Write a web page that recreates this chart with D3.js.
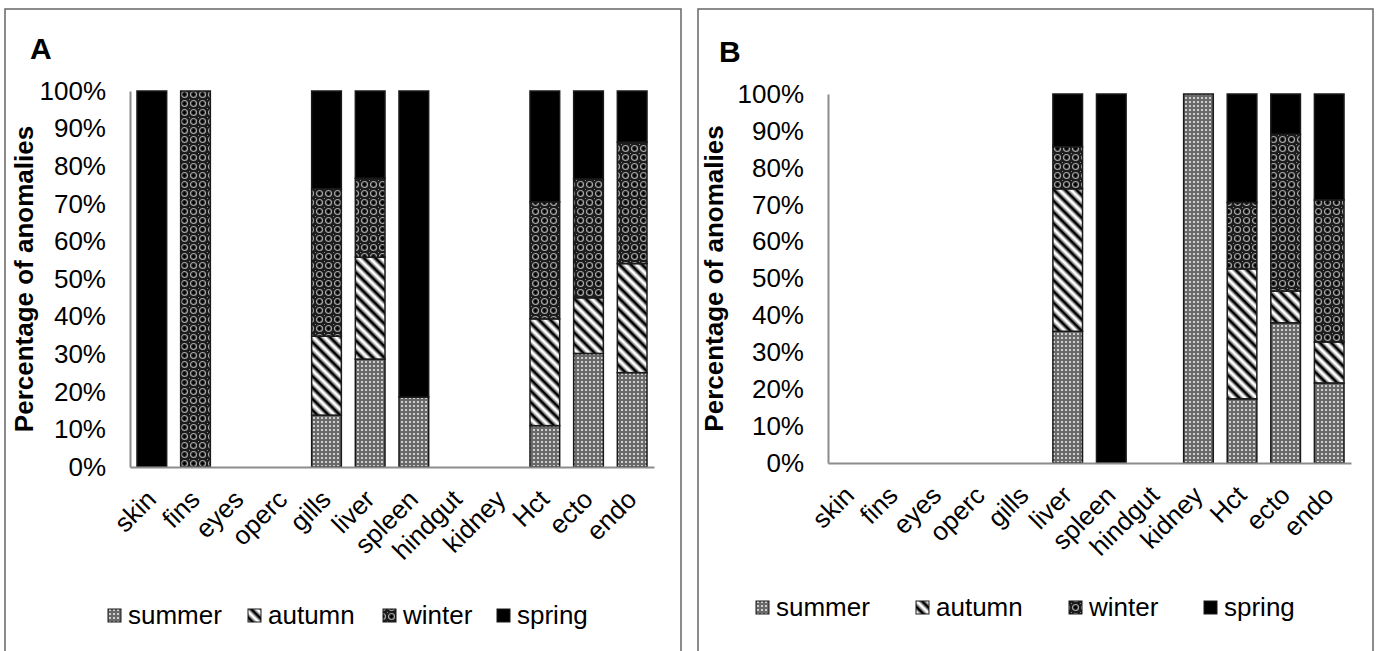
<!DOCTYPE html>
<html>
<head>
<meta charset="utf-8">
<script src="https://cdn.jsdelivr.net/npm/d3@7"></script>
<style>
  body { margin: 0; background: #fff; }
  svg { display: block; font-family: "Liberation Sans", Arial, sans-serif; }
</style>
</head>
<body>
<svg id="chart" width="1379" height="651"></svg>
<script>
// categories and seasons
const categories = ["skin", "fins", "eyes", "operc", "gills", "liver", "spleen", "hindgut", "kidney", "Hct", "ecto", "endo"];
const seasons = ["summer", "autumn", "winter", "spring"];
const yTicks = [0, 10, 20, 30, 40, 50, 60, 70, 80, 90, 100];

// panel A, % of anomalies per season
const aSummer = [0, 0, 0, 0, 13.8, 28.7, 18.6, 0, 0, 11.0, 30.2, 25.1];
const aAutumn = [0, 0, 0, 0, 21.0, 27.1, 0, 0, 0, 28.4, 14.8, 29.0];
const aWinter = [0, 100, 0, 0, 39.2, 21.0, 0, 0, 0, 31.1, 31.6, 32.3];
const aSpring = [100, 0, 0, 0, 26.0, 23.2, 81.4, 0, 0, 29.5, 23.4, 13.6];

// panel B
const bSummer = [0, 0, 0, 0, 0, 35.7, 0, 0, 100, 17.4, 38.0, 21.7];
const bAutumn = [0, 0, 0, 0, 0, 38.6, 0, 0, 0, 35.2, 8.6, 11.1];
const bWinter = [0, 0, 0, 0, 0, 11.4, 0, 0, 0, 18.0, 42.5, 38.5];
const bSpring = [0, 0, 0, 0, 0, 14.3, 100, 0, 0, 29.4, 10.9, 28.7];

const svg = d3.select("#chart");
svg.append("rect").attr("width", 1379).attr("height", 651).attr("fill", "#fff");

// hatch patterns, roughly like the excel ones
const defs = svg.append("defs");
let p = defs.append("pattern").attr("id", "pat-summer").attr("patternUnits", "userSpaceOnUse")
  .attr("width", 4).attr("height", 4);
p.append("rect").attr("width", 4).attr("height", 4).attr("fill", "#6a6a6a");
p.append("rect").attr("x", 1).attr("y", 1).attr("width", 2).attr("height", 2).attr("fill", "#cfcfcf");

p = defs.append("pattern").attr("id", "pat-autumn").attr("patternUnits", "userSpaceOnUse")
  .attr("width", 8).attr("height", 8).attr("patternTransform", "rotate(-45)");
p.append("rect").attr("width", 8).attr("height", 8).attr("fill", "#fff");
p.append("rect").attr("x", 0.5).attr("width", 1).attr("height", 8).attr("fill", "#777");
p.append("rect").attr("x", 1.5).attr("width", 3).attr("height", 8).attr("fill", "#000");
p.append("rect").attr("x", 4.5).attr("width", 1).attr("height", 8).attr("fill", "#777");

p = defs.append("pattern").attr("id", "pat-winter").attr("patternUnits", "userSpaceOnUse")
  .attr("width", 9).attr("height", 9);
p.append("rect").attr("width", 9).attr("height", 9).attr("fill", "#1c1c1c");
p.append("circle").attr("cx", 4.5).attr("cy", 4.5).attr("r", 3).attr("fill", "none")
  .attr("stroke", "#a6a6a6").attr("stroke-width", 1.2);
p.append("rect").attr("x", 4).attr("y", 3).attr("width", 1).attr("height", 3).attr("fill", "#000");
p.append("rect").attr("x", 3).attr("y", 4).attr("width", 3).attr("height", 1).attr("fill", "#000");
p.append("rect").attr("x", 0).attr("y", 0).attr("width", 1).attr("height", 1).attr("fill", "#8a8a8a");

const fills = {
  summer: "url(#pat-summer)",
  autumn: "url(#pat-autumn)",
  winter: "url(#pat-winter)",
  spring: "#000"
};

const panels = [
  {
    letter: "A", series: [aSummer, aAutumn, aWinter, aSpring],
    box: [5, 9, 676], letterPos: [30, 59],
    x0: 130, x1: 654, yTop: 91, yBot: 467, titleX: 33,
    legendY: 624, legendX: [108, 248, 383, 497]
  },
  {
    letter: "B", series: [bSummer, bAutumn, bWinter, bSpring],
    box: [698, 9, 675], letterPos: [719, 62],
    x0: 828, x1: 1351, yTop: 94, yBot: 463, titleX: 723,
    legendY: 616, legendX: [756, 916, 1069, 1204]
  }
];

panels.forEach(drawPanel);

function drawPanel(cfg) {
  const g = svg.append("g");
  // frame
  g.append("rect")
    .attr("x", cfg.box[0]).attr("y", cfg.box[1])
    .attr("width", cfg.box[2]).attr("height", 700)
    .attr("fill", "none").attr("stroke", "#666").attr("stroke-width", 1.5);

  g.append("text")
    .attr("x", cfg.letterPos[0]).attr("y", cfg.letterPos[1])
    .attr("font-size", 30).attr("font-weight", "bold").text(cfg.letter);

  const x = d3.scaleBand().domain(categories).range([cfg.x0, cfg.x1])
    .paddingInner(0.32).paddingOuter(0.16);
  const y = d3.scaleLinear().domain([0, 100]).range([cfg.yBot, cfg.yTop]);

  // tidy rows for the stack
  const rows = categories.map((c, i) => {
    const r = { cat: c };
    seasons.forEach((s, k) => (r[s] = cfg.series[k][i]));
    return r;
  });
  const stacked = d3.stack().keys(seasons)(rows);

  // y axis
  const yAxis = g.append("g")
    .attr("transform", `translate(${cfg.x0},0)`)
    .call(d3.axisLeft(y).tickValues(yTicks).tickSize(0).tickPadding(24).tickFormat((d) => d + "%"));
  yAxis.select(".domain").attr("stroke", "#8c8c8c").attr("stroke-width", 2);
  yAxis.selectAll("text").attr("font-size", 26).attr("fill", "#000")
    .attr("font-family", "Liberation Sans, Arial, sans-serif");

  // bars
  stacked.forEach((layer) => {
    g.append("g").selectAll("rect")
      .data(layer.filter((d) => d[1] - d[0] > 0))
      .join("rect")
      .attr("x", (d) => x(d.data.cat))
      .attr("width", x.bandwidth())
      .attr("y", (d) => y(d[1]))
      .attr("height", (d) => y(d[0]) - y(d[1]))
      .attr("fill", fills[layer.key])
      .attr("stroke", "#1a1a1a")
      .attr("stroke-width", 1.5);
  });

  // x axis
  const xAxis = g.append("g")
    .attr("transform", `translate(0,${cfg.yBot})`)
    .call(d3.axisBottom(x).tickSize(0).tickPadding(0));
  xAxis.select(".domain").attr("stroke", "#8c8c8c").attr("stroke-width", 2);
  xAxis.selectAll("text")
    .attr("font-size", 26).attr("fill", "#000")
    .attr("font-family", "Liberation Sans, Arial, sans-serif")
    .attr("text-anchor", "end")
    .attr("dy", 0).attr("y", 0)
    .attr("transform", `translate(6,34) rotate(-45)`);

  // y title
  g.append("text")
    .attr("transform", `translate(${cfg.titleX},${(cfg.yTop + cfg.yBot) / 2}) rotate(-90)`)
    .attr("text-anchor", "middle")
    .attr("font-size", 26).attr("font-weight", "bold")
    .text("Percentage of anomalies");

  // legend
  const leg = g.append("g");
  seasons.forEach((s, k) => {
    leg.append("rect")
      .attr("x", cfg.legendX[k]).attr("y", cfg.legendY - 15)
      .attr("width", 13).attr("height", 13)
      .attr("fill", fills[s]).attr("stroke", "#1a1a1a").attr("stroke-width", 1);
    leg.append("text")
      .attr("x", cfg.legendX[k] + 20).attr("y", cfg.legendY)
      .attr("font-size", 26).text(s);
  });
}
</script>
</body>
</html>
